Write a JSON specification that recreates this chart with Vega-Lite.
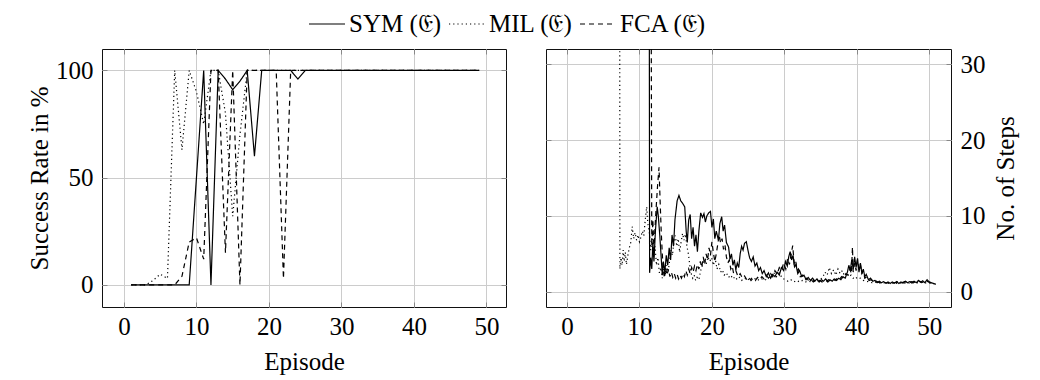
{
"$schema": "https://vega.github.io/schema/vega-lite/v6.json",
"padding": {"left": 27, "top": 5, "right": 5, "bottom": 5},
"spacing": 38,
"config": {
  "font": "Liberation Serif",
  "view": {"stroke": "#111", "strokeWidth": 1},
  "axis": {"labelFont": "Liberation Serif", "titleFont": "Liberation Serif", "labelFontSize": 25, "titleFontSize": 25, "titleFontWeight": "normal", "labelColor": "black", "titleColor": "black", "gridColor": "#cccccc", "gridWidth": 1, "domain": false, "tickColor": "#888888", "tickSize": -5, "labelPadding": 12},
  "legend": {"labelFont": "Liberation Serif", "labelFontSize": 25, "labelColor": "black"}
},
"resolve": {"scale": {"strokeDash": "shared"}, "legend": {"strokeDash": "shared"}},
"datasets": {
"succ": [
{"ep":1,"m":"SYM","v":0},{"ep":2,"m":"SYM","v":0},{"ep":3,"m":"SYM","v":0},{"ep":4,"m":"SYM","v":0},{"ep":5,"m":"SYM","v":0},{"ep":6,"m":"SYM","v":0},{"ep":7,"m":"SYM","v":0},{"ep":8,"m":"SYM","v":0},{"ep":9,"m":"SYM","v":0},{"ep":10,"m":"SYM","v":50},{"ep":11,"m":"SYM","v":100},{"ep":12,"m":"SYM","v":0},{"ep":13,"m":"SYM","v":100},{"ep":14,"m":"SYM","v":96},{"ep":15,"m":"SYM","v":91},{"ep":16,"m":"SYM","v":95},{"ep":17,"m":"SYM","v":100},{"ep":18,"m":"SYM","v":60},{"ep":19,"m":"SYM","v":100},{"ep":20,"m":"SYM","v":100},{"ep":21,"m":"SYM","v":100},{"ep":22,"m":"SYM","v":100},{"ep":23,"m":"SYM","v":100},{"ep":24,"m":"SYM","v":96},{"ep":25,"m":"SYM","v":100},{"ep":26,"m":"SYM","v":100},{"ep":27,"m":"SYM","v":100},{"ep":28,"m":"SYM","v":100},{"ep":29,"m":"SYM","v":100},{"ep":30,"m":"SYM","v":100},{"ep":31,"m":"SYM","v":100},{"ep":32,"m":"SYM","v":100},{"ep":33,"m":"SYM","v":100},{"ep":34,"m":"SYM","v":100},{"ep":35,"m":"SYM","v":100},{"ep":36,"m":"SYM","v":100},{"ep":37,"m":"SYM","v":100},{"ep":38,"m":"SYM","v":100},{"ep":39,"m":"SYM","v":100},{"ep":40,"m":"SYM","v":100},{"ep":41,"m":"SYM","v":100},{"ep":42,"m":"SYM","v":100},{"ep":43,"m":"SYM","v":100},{"ep":44,"m":"SYM","v":100},{"ep":45,"m":"SYM","v":100},{"ep":46,"m":"SYM","v":100},{"ep":47,"m":"SYM","v":100},{"ep":48,"m":"SYM","v":100},{"ep":49,"m":"SYM","v":100},
{"ep":1,"m":"MIL","v":0},{"ep":2,"m":"MIL","v":0},{"ep":3,"m":"MIL","v":0},{"ep":4,"m":"MIL","v":2},{"ep":5,"m":"MIL","v":5},{"ep":6,"m":"MIL","v":3},{"ep":7,"m":"MIL","v":100},{"ep":8,"m":"MIL","v":63},{"ep":9,"m":"MIL","v":100},{"ep":10,"m":"MIL","v":90},{"ep":11,"m":"MIL","v":75},{"ep":12,"m":"MIL","v":100},{"ep":13,"m":"MIL","v":100},{"ep":14,"m":"MIL","v":80},{"ep":15,"m":"MIL","v":32},{"ep":16,"m":"MIL","v":70},{"ep":17,"m":"MIL","v":100},{"ep":18,"m":"MIL","v":100},{"ep":19,"m":"MIL","v":100},{"ep":20,"m":"MIL","v":100},{"ep":21,"m":"MIL","v":100},{"ep":22,"m":"MIL","v":100},{"ep":23,"m":"MIL","v":100},{"ep":24,"m":"MIL","v":100},{"ep":25,"m":"MIL","v":100},{"ep":26,"m":"MIL","v":100},{"ep":27,"m":"MIL","v":100},{"ep":28,"m":"MIL","v":100},{"ep":29,"m":"MIL","v":100},{"ep":30,"m":"MIL","v":100},{"ep":31,"m":"MIL","v":100},{"ep":32,"m":"MIL","v":100},{"ep":33,"m":"MIL","v":100},{"ep":34,"m":"MIL","v":100},{"ep":35,"m":"MIL","v":100},{"ep":36,"m":"MIL","v":100},{"ep":37,"m":"MIL","v":100},{"ep":38,"m":"MIL","v":100},{"ep":39,"m":"MIL","v":100},{"ep":40,"m":"MIL","v":100},{"ep":41,"m":"MIL","v":100},{"ep":42,"m":"MIL","v":100},{"ep":43,"m":"MIL","v":100},{"ep":44,"m":"MIL","v":100},{"ep":45,"m":"MIL","v":100},{"ep":46,"m":"MIL","v":100},{"ep":47,"m":"MIL","v":100},{"ep":48,"m":"MIL","v":100},{"ep":49,"m":"MIL","v":100},
{"ep":1,"m":"FCA","v":0},{"ep":2,"m":"FCA","v":0},{"ep":3,"m":"FCA","v":0},{"ep":4,"m":"FCA","v":0},{"ep":5,"m":"FCA","v":0},{"ep":6,"m":"FCA","v":0},{"ep":7,"m":"FCA","v":0},{"ep":8,"m":"FCA","v":4},{"ep":9,"m":"FCA","v":20},{"ep":10,"m":"FCA","v":22},{"ep":11,"m":"FCA","v":12},{"ep":12,"m":"FCA","v":100},{"ep":13,"m":"FCA","v":100},{"ep":14,"m":"FCA","v":15},{"ep":15,"m":"FCA","v":100},{"ep":16,"m":"FCA","v":0},{"ep":17,"m":"FCA","v":100},{"ep":18,"m":"FCA","v":100},{"ep":19,"m":"FCA","v":100},{"ep":20,"m":"FCA","v":100},{"ep":21,"m":"FCA","v":100},{"ep":22,"m":"FCA","v":3},{"ep":23,"m":"FCA","v":100},{"ep":24,"m":"FCA","v":100},{"ep":25,"m":"FCA","v":100},{"ep":26,"m":"FCA","v":100},{"ep":27,"m":"FCA","v":100},{"ep":28,"m":"FCA","v":100},{"ep":29,"m":"FCA","v":100},{"ep":30,"m":"FCA","v":100},{"ep":31,"m":"FCA","v":100},{"ep":32,"m":"FCA","v":100},{"ep":33,"m":"FCA","v":100},{"ep":34,"m":"FCA","v":100},{"ep":35,"m":"FCA","v":100},{"ep":36,"m":"FCA","v":100},{"ep":37,"m":"FCA","v":100},{"ep":38,"m":"FCA","v":100},{"ep":39,"m":"FCA","v":100},{"ep":40,"m":"FCA","v":100},{"ep":41,"m":"FCA","v":100},{"ep":42,"m":"FCA","v":100},{"ep":43,"m":"FCA","v":100},{"ep":44,"m":"FCA","v":100},{"ep":45,"m":"FCA","v":100},{"ep":46,"m":"FCA","v":100},{"ep":47,"m":"FCA","v":100},{"ep":48,"m":"FCA","v":100},{"ep":49,"m":"FCA","v":100}
],
"steps": [
{"ep":11.35,"m":"SYM","s":45},{"ep":11.4,"m":"SYM","s":2.5},{"ep":11.55,"m":"SYM","s":4.5},{"ep":11.7,"m":"SYM","s":3.0},{"ep":11.85,"m":"SYM","s":6.5},{"ep":12.0,"m":"SYM","s":4.0},{"ep":12.2,"m":"SYM","s":8.0},{"ep":12.45,"m":"SYM","s":11.2},{"ep":12.6,"m":"SYM","s":10.0},{"ep":12.8,"m":"SYM","s":7.5},{"ep":13.0,"m":"SYM","s":4.5},{"ep":13.15,"m":"SYM","s":2.2},{"ep":13.3,"m":"SYM","s":4.0},{"ep":13.5,"m":"SYM","s":2.6},{"ep":13.7,"m":"SYM","s":4.8},{"ep":13.9,"m":"SYM","s":3.5},{"ep":14.1,"m":"SYM","s":5.8},{"ep":14.3,"m":"SYM","s":4.2},{"ep":14.5,"m":"SYM","s":7.5},{"ep":14.7,"m":"SYM","s":6.0},{"ep":14.9,"m":"SYM","s":9.5},{"ep":15.2,"m":"SYM","s":12.0},{"ep":15.45,"m":"SYM","s":12.7},{"ep":15.7,"m":"SYM","s":12.0},{"ep":16.0,"m":"SYM","s":11.6},{"ep":16.25,"m":"SYM","s":11.2},{"ep":16.45,"m":"SYM","s":8.0},{"ep":16.6,"m":"SYM","s":6.5},{"ep":16.8,"m":"SYM","s":9.5},{"ep":17.0,"m":"SYM","s":10.2},{"ep":17.2,"m":"SYM","s":7.0},{"ep":17.4,"m":"SYM","s":8.5},{"ep":17.6,"m":"SYM","s":6.0},{"ep":17.8,"m":"SYM","s":7.5},{"ep":18.0,"m":"SYM","s":5.3},{"ep":18.2,"m":"SYM","s":8.0},{"ep":18.45,"m":"SYM","s":10.4},{"ep":18.7,"m":"SYM","s":9.8},{"ep":18.9,"m":"SYM","s":10.3},{"ep":19.1,"m":"SYM","s":9.2},{"ep":19.3,"m":"SYM","s":10.0},{"ep":19.55,"m":"SYM","s":10.4},{"ep":19.8,"m":"SYM","s":10.6},{"ep":20.0,"m":"SYM","s":8.5},{"ep":20.2,"m":"SYM","s":9.6},{"ep":20.4,"m":"SYM","s":7.0},{"ep":20.6,"m":"SYM","s":8.0},{"ep":20.9,"m":"SYM","s":6.8},{"ep":21.1,"m":"SYM","s":9.0},{"ep":21.35,"m":"SYM","s":9.9},{"ep":21.55,"m":"SYM","s":8.0},{"ep":21.75,"m":"SYM","s":8.8},{"ep":22.0,"m":"SYM","s":6.5},{"ep":22.3,"m":"SYM","s":5.9},{"ep":22.5,"m":"SYM","s":4.3},{"ep":22.7,"m":"SYM","s":5.0},{"ep":22.9,"m":"SYM","s":3.5},{"ep":23.1,"m":"SYM","s":4.2},{"ep":23.3,"m":"SYM","s":2.9},{"ep":23.5,"m":"SYM","s":3.8},{"ep":23.7,"m":"SYM","s":3.2},{"ep":23.9,"m":"SYM","s":5.0},{"ep":24.1,"m":"SYM","s":6.0},{"ep":24.3,"m":"SYM","s":5.5},{"ep":24.5,"m":"SYM","s":6.4},{"ep":24.75,"m":"SYM","s":6.6},{"ep":24.95,"m":"SYM","s":5.6},{"ep":25.2,"m":"SYM","s":4.5},{"ep":25.45,"m":"SYM","s":4.0},{"ep":25.7,"m":"SYM","s":4.6},{"ep":25.95,"m":"SYM","s":3.4},{"ep":26.2,"m":"SYM","s":3.8},{"ep":26.45,"m":"SYM","s":2.8},{"ep":26.7,"m":"SYM","s":3.2},{"ep":26.95,"m":"SYM","s":2.4},{"ep":27.2,"m":"SYM","s":2.8},{"ep":27.5,"m":"SYM","s":2.0},{"ep":27.8,"m":"SYM","s":2.5},{"ep":28.1,"m":"SYM","s":1.8},{"ep":28.4,"m":"SYM","s":2.3},{"ep":28.7,"m":"SYM","s":2.0},{"ep":29.0,"m":"SYM","s":2.6},{"ep":29.3,"m":"SYM","s":2.2},{"ep":29.6,"m":"SYM","s":3.2},{"ep":29.9,"m":"SYM","s":2.8},{"ep":30.15,"m":"SYM","s":4.0},{"ep":30.4,"m":"SYM","s":3.4},{"ep":30.6,"m":"SYM","s":4.6},{"ep":30.8,"m":"SYM","s":5.3},{"ep":31.0,"m":"SYM","s":4.2},{"ep":31.2,"m":"SYM","s":4.8},{"ep":31.4,"m":"SYM","s":3.3},{"ep":31.6,"m":"SYM","s":3.6},{"ep":31.85,"m":"SYM","s":2.4},{"ep":32.1,"m":"SYM","s":2.8},{"ep":32.4,"m":"SYM","s":2.0},{"ep":32.7,"m":"SYM","s":2.2},{"ep":33.0,"m":"SYM","s":1.6},{"ep":33.3,"m":"SYM","s":1.9},{"ep":33.6,"m":"SYM","s":1.5},{"ep":33.9,"m":"SYM","s":1.8},{"ep":34.2,"m":"SYM","s":1.4},{"ep":34.5,"m":"SYM","s":1.7},{"ep":34.8,"m":"SYM","s":1.3},{"ep":35.1,"m":"SYM","s":1.6},{"ep":35.4,"m":"SYM","s":1.4},{"ep":35.7,"m":"SYM","s":1.7},{"ep":36.0,"m":"SYM","s":1.3},{"ep":36.3,"m":"SYM","s":1.6},{"ep":36.6,"m":"SYM","s":1.4},{"ep":36.9,"m":"SYM","s":1.7},{"ep":37.2,"m":"SYM","s":1.5},{"ep":37.5,"m":"SYM","s":1.8},{"ep":37.8,"m":"SYM","s":1.6},{"ep":38.1,"m":"SYM","s":2.0},{"ep":38.4,"m":"SYM","s":1.8},{"ep":38.7,"m":"SYM","s":2.6},{"ep":38.9,"m":"SYM","s":3.5},{"ep":39.1,"m":"SYM","s":2.8},{"ep":39.3,"m":"SYM","s":4.2},{"ep":39.5,"m":"SYM","s":3.0},{"ep":39.7,"m":"SYM","s":4.6},{"ep":39.9,"m":"SYM","s":3.2},{"ep":40.1,"m":"SYM","s":4.4},{"ep":40.3,"m":"SYM","s":2.6},{"ep":40.5,"m":"SYM","s":3.8},{"ep":40.7,"m":"SYM","s":2.4},{"ep":40.9,"m":"SYM","s":3.0},{"ep":41.1,"m":"SYM","s":2.0},{"ep":41.3,"m":"SYM","s":2.3},{"ep":41.6,"m":"SYM","s":1.6},{"ep":41.9,"m":"SYM","s":1.8},{"ep":42.2,"m":"SYM","s":1.4},{"ep":42.5,"m":"SYM","s":1.5},{"ep":42.8,"m":"SYM","s":1.2},{"ep":43.1,"m":"SYM","s":1.4},{"ep":43.4,"m":"SYM","s":1.2},{"ep":43.7,"m":"SYM","s":1.35},{"ep":44.0,"m":"SYM","s":1.15},{"ep":44.3,"m":"SYM","s":1.3},{"ep":44.6,"m":"SYM","s":1.1},{"ep":44.9,"m":"SYM","s":1.3},{"ep":45.2,"m":"SYM","s":1.15},{"ep":45.5,"m":"SYM","s":1.35},{"ep":45.8,"m":"SYM","s":1.1},{"ep":46.1,"m":"SYM","s":1.3},{"ep":46.4,"m":"SYM","s":1.15},{"ep":46.7,"m":"SYM","s":1.4},{"ep":47.0,"m":"SYM","s":1.2},{"ep":47.3,"m":"SYM","s":1.35},{"ep":47.6,"m":"SYM","s":1.15},{"ep":47.9,"m":"SYM","s":1.4},{"ep":48.2,"m":"SYM","s":1.2},{"ep":48.5,"m":"SYM","s":1.5},{"ep":48.8,"m":"SYM","s":1.25},{"ep":49.1,"m":"SYM","s":1.45},{"ep":49.4,"m":"SYM","s":1.2},{"ep":49.7,"m":"SYM","s":1.6},{"ep":50.0,"m":"SYM","s":1.3},{"ep":50.3,"m":"SYM","s":1.2},{"ep":50.6,"m":"SYM","s":1.1},{"ep":50.9,"m":"SYM","s":1.0},
{"ep":7.27,"m":"MIL","s":45},{"ep":7.3,"m":"MIL","s":3.0},{"ep":7.45,"m":"MIL","s":4.5},{"ep":7.6,"m":"MIL","s":3.5},{"ep":7.75,"m":"MIL","s":5.5},{"ep":7.9,"m":"MIL","s":4.0},{"ep":8.05,"m":"MIL","s":5.2},{"ep":8.2,"m":"MIL","s":3.6},{"ep":8.4,"m":"MIL","s":4.8},{"ep":8.6,"m":"MIL","s":5.8},{"ep":8.8,"m":"MIL","s":6.5},{"ep":9.0,"m":"MIL","s":8.6},{"ep":9.2,"m":"MIL","s":7.0},{"ep":9.4,"m":"MIL","s":7.8},{"ep":9.6,"m":"MIL","s":6.8},{"ep":9.8,"m":"MIL","s":7.5},{"ep":10.0,"m":"MIL","s":6.6},{"ep":10.2,"m":"MIL","s":7.2},{"ep":10.4,"m":"MIL","s":8.0},{"ep":10.6,"m":"MIL","s":7.4},{"ep":10.8,"m":"MIL","s":9.5},{"ep":11.0,"m":"MIL","s":11.2},{"ep":11.15,"m":"MIL","s":9.0},{"ep":11.35,"m":"MIL","s":8.0},{"ep":11.55,"m":"MIL","s":5.5},{"ep":11.75,"m":"MIL","s":7.0},{"ep":11.95,"m":"MIL","s":4.5},{"ep":12.15,"m":"MIL","s":6.0},{"ep":12.35,"m":"MIL","s":3.5},{"ep":12.55,"m":"MIL","s":4.5},{"ep":12.75,"m":"MIL","s":2.5},{"ep":12.95,"m":"MIL","s":3.2},{"ep":13.15,"m":"MIL","s":1.8},{"ep":13.35,"m":"MIL","s":3.0},{"ep":13.55,"m":"MIL","s":2.2},{"ep":13.75,"m":"MIL","s":3.5},{"ep":13.95,"m":"MIL","s":2.6},{"ep":14.15,"m":"MIL","s":4.0},{"ep":14.35,"m":"MIL","s":5.5},{"ep":14.55,"m":"MIL","s":4.8},{"ep":14.75,"m":"MIL","s":6.5},{"ep":14.95,"m":"MIL","s":7.4},{"ep":15.15,"m":"MIL","s":6.0},{"ep":15.35,"m":"MIL","s":7.0},{"ep":15.55,"m":"MIL","s":5.2},{"ep":15.75,"m":"MIL","s":6.6},{"ep":15.95,"m":"MIL","s":7.7},{"ep":16.15,"m":"MIL","s":6.8},{"ep":16.35,"m":"MIL","s":7.6},{"ep":16.55,"m":"MIL","s":6.0},{"ep":16.75,"m":"MIL","s":5.0},{"ep":16.95,"m":"MIL","s":3.5},{"ep":17.15,"m":"MIL","s":2.4},{"ep":17.35,"m":"MIL","s":1.8},{"ep":17.55,"m":"MIL","s":2.2},{"ep":17.75,"m":"MIL","s":1.5},{"ep":17.95,"m":"MIL","s":1.9},{"ep":18.2,"m":"MIL","s":1.6},{"ep":18.45,"m":"MIL","s":2.8},{"ep":18.7,"m":"MIL","s":3.5},{"ep":18.95,"m":"MIL","s":4.2},{"ep":19.2,"m":"MIL","s":3.6},{"ep":19.45,"m":"MIL","s":4.6},{"ep":19.7,"m":"MIL","s":4.0},{"ep":19.95,"m":"MIL","s":4.5},{"ep":20.2,"m":"MIL","s":3.5},{"ep":20.45,"m":"MIL","s":4.4},{"ep":20.7,"m":"MIL","s":3.0},{"ep":20.95,"m":"MIL","s":3.6},{"ep":21.2,"m":"MIL","s":2.6},{"ep":21.45,"m":"MIL","s":2.9},{"ep":21.7,"m":"MIL","s":2.2},{"ep":22.0,"m":"MIL","s":2.5},{"ep":22.3,"m":"MIL","s":1.9},{"ep":22.6,"m":"MIL","s":2.2},{"ep":22.9,"m":"MIL","s":1.7},{"ep":23.2,"m":"MIL","s":2.0},{"ep":23.5,"m":"MIL","s":1.6},{"ep":23.8,"m":"MIL","s":1.9},{"ep":24.1,"m":"MIL","s":1.5},{"ep":24.5,"m":"MIL","s":1.8},{"ep":24.9,"m":"MIL","s":1.5},{"ep":25.3,"m":"MIL","s":1.9},{"ep":25.7,"m":"MIL","s":1.6},{"ep":26.1,"m":"MIL","s":1.8},{"ep":26.5,"m":"MIL","s":1.5},{"ep":26.9,"m":"MIL","s":1.7},{"ep":27.3,"m":"MIL","s":1.5},{"ep":27.7,"m":"MIL","s":1.8},{"ep":28.1,"m":"MIL","s":2.0},{"ep":28.5,"m":"MIL","s":2.6},{"ep":28.9,"m":"MIL","s":2.0},{"ep":29.3,"m":"MIL","s":2.5},{"ep":29.7,"m":"MIL","s":1.8},{"ep":30.1,"m":"MIL","s":1.6},{"ep":30.5,"m":"MIL","s":1.4},{"ep":30.9,"m":"MIL","s":1.6},{"ep":31.3,"m":"MIL","s":1.3},{"ep":31.7,"m":"MIL","s":1.5},{"ep":32.1,"m":"MIL","s":1.3},{"ep":32.5,"m":"MIL","s":1.5},{"ep":32.9,"m":"MIL","s":1.3},{"ep":33.3,"m":"MIL","s":1.4},{"ep":33.7,"m":"MIL","s":1.3},{"ep":34.1,"m":"MIL","s":1.5},{"ep":34.5,"m":"MIL","s":1.4},{"ep":34.9,"m":"MIL","s":1.6},{"ep":35.3,"m":"MIL","s":1.9},{"ep":35.6,"m":"MIL","s":2.6},{"ep":35.9,"m":"MIL","s":2.2},{"ep":36.2,"m":"MIL","s":3.2},{"ep":36.5,"m":"MIL","s":2.4},{"ep":36.8,"m":"MIL","s":2.9},{"ep":37.1,"m":"MIL","s":2.2},{"ep":37.4,"m":"MIL","s":3.0},{"ep":37.7,"m":"MIL","s":2.4},{"ep":38.0,"m":"MIL","s":2.8},{"ep":38.3,"m":"MIL","s":2.1},{"ep":38.6,"m":"MIL","s":2.5},{"ep":38.9,"m":"MIL","s":2.0},{"ep":39.2,"m":"MIL","s":2.2},{"ep":39.5,"m":"MIL","s":1.8},{"ep":39.8,"m":"MIL","s":2.0},{"ep":40.1,"m":"MIL","s":1.7},{"ep":40.5,"m":"MIL","s":1.8},{"ep":40.9,"m":"MIL","s":1.5},{"ep":41.3,"m":"MIL","s":1.4},{"ep":41.7,"m":"MIL","s":1.3},{"ep":42.1,"m":"MIL","s":1.2},{"ep":42.7,"m":"MIL","s":1.25},{"ep":43.3,"m":"MIL","s":1.15},{"ep":43.9,"m":"MIL","s":1.2},{"ep":44.5,"m":"MIL","s":1.1},{"ep":45.1,"m":"MIL","s":1.2},{"ep":45.7,"m":"MIL","s":1.1},{"ep":46.3,"m":"MIL","s":1.2},{"ep":46.9,"m":"MIL","s":1.1},{"ep":47.5,"m":"MIL","s":1.2},{"ep":48.1,"m":"MIL","s":1.15},{"ep":48.7,"m":"MIL","s":1.25},{"ep":49.3,"m":"MIL","s":1.15},{"ep":49.9,"m":"MIL","s":1.2},{"ep":50.5,"m":"MIL","s":1.1},{"ep":50.9,"m":"MIL","s":1.0},
{"ep":11.6,"m":"FCA","s":45},{"ep":11.7,"m":"FCA","s":6.0},{"ep":11.85,"m":"FCA","s":9.5},{"ep":12.0,"m":"FCA","s":5.5},{"ep":12.15,"m":"FCA","s":8.5},{"ep":12.3,"m":"FCA","s":11.0},{"ep":12.5,"m":"FCA","s":14.0},{"ep":12.7,"m":"FCA","s":16.4},{"ep":12.85,"m":"FCA","s":12.0},{"ep":13.0,"m":"FCA","s":8.0},{"ep":13.15,"m":"FCA","s":5.0},{"ep":13.3,"m":"FCA","s":2.8},{"ep":13.45,"m":"FCA","s":1.8},{"ep":13.6,"m":"FCA","s":3.2},{"ep":13.8,"m":"FCA","s":2.2},{"ep":14.0,"m":"FCA","s":3.0},{"ep":14.2,"m":"FCA","s":2.0},{"ep":14.4,"m":"FCA","s":2.6},{"ep":14.6,"m":"FCA","s":1.9},{"ep":14.8,"m":"FCA","s":2.4},{"ep":15.0,"m":"FCA","s":1.8},{"ep":15.2,"m":"FCA","s":2.3},{"ep":15.4,"m":"FCA","s":1.7},{"ep":15.6,"m":"FCA","s":2.2},{"ep":15.8,"m":"FCA","s":1.8},{"ep":16.0,"m":"FCA","s":2.4},{"ep":16.2,"m":"FCA","s":2.0},{"ep":16.4,"m":"FCA","s":2.8},{"ep":16.6,"m":"FCA","s":2.2},{"ep":16.8,"m":"FCA","s":3.0},{"ep":17.0,"m":"FCA","s":2.4},{"ep":17.2,"m":"FCA","s":3.2},{"ep":17.4,"m":"FCA","s":2.6},{"ep":17.6,"m":"FCA","s":3.4},{"ep":17.8,"m":"FCA","s":2.8},{"ep":18.0,"m":"FCA","s":3.6},{"ep":18.2,"m":"FCA","s":3.0},{"ep":18.4,"m":"FCA","s":4.0},{"ep":18.6,"m":"FCA","s":3.2},{"ep":18.8,"m":"FCA","s":4.6},{"ep":19.0,"m":"FCA","s":3.6},{"ep":19.2,"m":"FCA","s":5.0},{"ep":19.4,"m":"FCA","s":4.2},{"ep":19.6,"m":"FCA","s":5.8},{"ep":19.8,"m":"FCA","s":4.8},{"ep":20.0,"m":"FCA","s":6.6},{"ep":20.2,"m":"FCA","s":5.2},{"ep":20.4,"m":"FCA","s":4.0},{"ep":20.6,"m":"FCA","s":5.0},{"ep":20.8,"m":"FCA","s":6.2},{"ep":21.0,"m":"FCA","s":7.5},{"ep":21.2,"m":"FCA","s":6.4},{"ep":21.4,"m":"FCA","s":7.0},{"ep":21.6,"m":"FCA","s":5.6},{"ep":21.8,"m":"FCA","s":6.2},{"ep":22.0,"m":"FCA","s":4.6},{"ep":22.2,"m":"FCA","s":3.8},{"ep":22.4,"m":"FCA","s":4.2},{"ep":22.6,"m":"FCA","s":3.0},{"ep":22.8,"m":"FCA","s":3.4},{"ep":23.0,"m":"FCA","s":2.4},{"ep":23.3,"m":"FCA","s":2.8},{"ep":23.6,"m":"FCA","s":2.0},{"ep":23.9,"m":"FCA","s":2.4},{"ep":24.2,"m":"FCA","s":1.8},{"ep":24.5,"m":"FCA","s":2.1},{"ep":24.8,"m":"FCA","s":1.6},{"ep":25.1,"m":"FCA","s":1.9},{"ep":25.4,"m":"FCA","s":1.5},{"ep":25.7,"m":"FCA","s":1.8},{"ep":26.0,"m":"FCA","s":1.5},{"ep":26.3,"m":"FCA","s":1.9},{"ep":26.6,"m":"FCA","s":1.6},{"ep":26.9,"m":"FCA","s":2.0},{"ep":27.2,"m":"FCA","s":1.7},{"ep":27.5,"m":"FCA","s":2.2},{"ep":27.8,"m":"FCA","s":1.8},{"ep":28.1,"m":"FCA","s":2.4},{"ep":28.4,"m":"FCA","s":2.0},{"ep":28.7,"m":"FCA","s":2.8},{"ep":29.0,"m":"FCA","s":2.3},{"ep":29.3,"m":"FCA","s":3.2},{"ep":29.6,"m":"FCA","s":2.8},{"ep":29.9,"m":"FCA","s":3.8},{"ep":30.2,"m":"FCA","s":3.0},{"ep":30.45,"m":"FCA","s":4.4},{"ep":30.7,"m":"FCA","s":3.6},{"ep":30.95,"m":"FCA","s":5.0},{"ep":31.15,"m":"FCA","s":6.1},{"ep":31.35,"m":"FCA","s":3.8},{"ep":31.55,"m":"FCA","s":4.2},{"ep":31.75,"m":"FCA","s":2.8},{"ep":31.95,"m":"FCA","s":3.0},{"ep":32.2,"m":"FCA","s":2.0},{"ep":32.5,"m":"FCA","s":2.2},{"ep":32.8,"m":"FCA","s":1.6},{"ep":33.1,"m":"FCA","s":1.8},{"ep":33.4,"m":"FCA","s":1.4},{"ep":33.7,"m":"FCA","s":1.6},{"ep":34.0,"m":"FCA","s":1.3},{"ep":34.3,"m":"FCA","s":1.5},{"ep":34.6,"m":"FCA","s":1.3},{"ep":34.9,"m":"FCA","s":1.5},{"ep":35.2,"m":"FCA","s":1.3},{"ep":35.5,"m":"FCA","s":1.5},{"ep":35.8,"m":"FCA","s":1.4},{"ep":36.1,"m":"FCA","s":1.6},{"ep":36.4,"m":"FCA","s":1.4},{"ep":36.7,"m":"FCA","s":1.7},{"ep":37.0,"m":"FCA","s":1.5},{"ep":37.3,"m":"FCA","s":1.8},{"ep":37.6,"m":"FCA","s":1.6},{"ep":37.9,"m":"FCA","s":2.0},{"ep":38.2,"m":"FCA","s":1.8},{"ep":38.5,"m":"FCA","s":2.4},{"ep":38.8,"m":"FCA","s":2.2},{"ep":39.05,"m":"FCA","s":3.0},{"ep":39.25,"m":"FCA","s":2.4},{"ep":39.4,"m":"FCA","s":5.9},{"ep":39.5,"m":"FCA","s":2.6},{"ep":39.7,"m":"FCA","s":3.8},{"ep":39.9,"m":"FCA","s":2.8},{"ep":40.1,"m":"FCA","s":4.2},{"ep":40.3,"m":"FCA","s":3.0},{"ep":40.5,"m":"FCA","s":3.6},{"ep":40.7,"m":"FCA","s":2.4},{"ep":40.9,"m":"FCA","s":2.8},{"ep":41.1,"m":"FCA","s":1.8},{"ep":41.4,"m":"FCA","s":2.0},{"ep":41.7,"m":"FCA","s":1.5},{"ep":42.0,"m":"FCA","s":1.6},{"ep":42.3,"m":"FCA","s":1.3},{"ep":42.7,"m":"FCA","s":1.4},{"ep":43.1,"m":"FCA","s":1.2},{"ep":43.6,"m":"FCA","s":1.3},{"ep":44.1,"m":"FCA","s":1.15},{"ep":44.6,"m":"FCA","s":1.3},{"ep":45.1,"m":"FCA","s":1.15},{"ep":45.6,"m":"FCA","s":1.3},{"ep":46.1,"m":"FCA","s":1.15},{"ep":46.6,"m":"FCA","s":1.35},{"ep":47.1,"m":"FCA","s":1.2},{"ep":47.6,"m":"FCA","s":1.35},{"ep":48.1,"m":"FCA","s":1.2},{"ep":48.6,"m":"FCA","s":1.4},{"ep":49.1,"m":"FCA","s":1.25},{"ep":49.6,"m":"FCA","s":1.45},{"ep":50.1,"m":"FCA","s":1.2},{"ep":50.5,"m":"FCA","s":1.1},{"ep":50.9,"m":"FCA","s":1.0}
]
},
"hconcat": [
{
  "width": 404, "height": 258,
  "data": {"name": "succ"},
  "layer": [
    {
      "mark": {"type": "line", "color": "black", "strokeWidth": 1.2, "clip": true},
      "encoding": {
        "x": {"field": "ep", "type": "quantitative", "scale": {"domain": [-3.03, 52.7], "nice": false, "zero": false}, "axis": {"orient": "bottom", "values": [0,10,20,30,40,50], "title": "Episode", "titlePadding": 10}},
        "y": {"field": "v", "type": "quantitative", "scale": {"domain": [-10.3, 110], "nice": false, "zero": false}, "axis": {"orient": "left", "values": [0,50,100], "title": "Success Rate in %", "titlePadding": 3, "labelPadding": 14}},
        "strokeDash": {"field": "m", "type": "nominal", "scale": {"domain": ["SYM","MIL","FCA"], "range": [[1,0],[1.2,3],[5,4]]},
          "legend": {"orient": "none", "legendX": 206, "legendY": -44, "direction": "horizontal", "columns": 3, "title": null, "symbolType": "stroke", "symbolSize": 1296, "symbolStrokeColor": "black", "symbolStrokeWidth": 1.2, "labelOffset": 3, "columnPadding": 4, "labelExpr": "datum.label + ' (𝔈)'"}}
      }
    },
    {
      "mark": {"type": "line", "strokeOpacity": 0, "clip": true},
      "encoding": {
        "x": {"field": "ep", "type": "quantitative", "axis": {"orient": "top", "values": [0,10,20,30,40,50], "labels": false, "title": null, "grid": false}},
        "y": {"field": "v", "type": "quantitative", "axis": {"orient": "right", "values": [0,50,100], "labels": false, "title": null, "grid": false}},
        "detail": {"field": "m"}
      }
    }
  ],
  "resolve": {"axis": {"x": "independent", "y": "independent"}}
},
{
  "width": 405, "height": 258,
  "data": {"name": "steps"},
  "layer": [
    {
      "mark": {"type": "line", "color": "black", "strokeWidth": 1.2, "clip": true},
      "encoding": {
        "x": {"field": "ep", "type": "quantitative", "scale": {"domain": [-2.9, 53], "nice": false, "zero": false}, "axis": {"orient": "bottom", "values": [0,10,20,30,40,50], "title": "Episode", "titlePadding": 10}},
        "y": {"field": "s", "type": "quantitative", "scale": {"domain": [-2, 32], "nice": false, "zero": false}, "axis": {"orient": "right", "values": [0,10,20,30], "title": "No. of Steps", "titleAngle": 270, "titleBaseline": "top", "titlePadding": 8, "labelPadding": 14}},
        "strokeDash": {"field": "m", "type": "nominal", "scale": {"domain": ["SYM","MIL","FCA"], "range": [[1,0],[1.2,3],[5,4]]},
          "legend": {"orient": "none", "legendX": 206, "legendY": -44, "direction": "horizontal", "columns": 3, "title": null, "symbolType": "stroke", "symbolSize": 1296, "symbolStrokeColor": "black", "symbolStrokeWidth": 1.2, "labelOffset": 3, "columnPadding": 4, "labelExpr": "datum.label + ' (𝔈)'"}}
      }
    },
    {
      "mark": {"type": "line", "strokeOpacity": 0, "clip": true},
      "encoding": {
        "x": {"field": "ep", "type": "quantitative", "axis": {"orient": "top", "values": [0,10,20,30,40,50], "labels": false, "title": null, "grid": false}},
        "y": {"field": "s", "type": "quantitative", "axis": {"orient": "left", "values": [0,10,20,30], "labels": false, "title": null, "grid": false}},
        "detail": {"field": "m"}
      }
    }
  ],
  "resolve": {"axis": {"x": "independent", "y": "independent"}}
}
]
}
